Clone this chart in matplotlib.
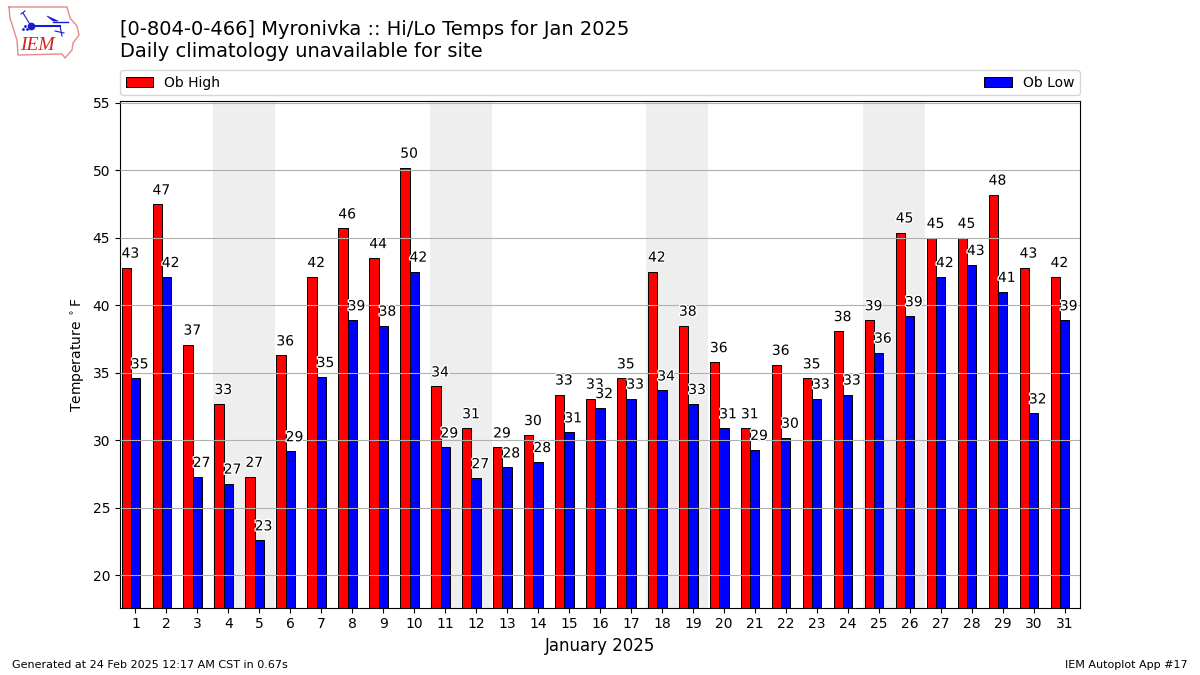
import matplotlib
matplotlib.use("Agg")
import matplotlib.pyplot as plt
import matplotlib.patheffects as pe
import numpy as np

days = list(range(1, 32))
ob_high = [42.8, 47.48, 37.1, 32.7, 27.3, 36.3, 42.1, 45.7, 43.5, 50.2, 34.0,
           30.9, 29.48, 30.4, 33.4, 33.1, 34.6, 42.5, 38.5, 35.8, 30.9, 35.6,
           34.6, 38.1, 38.9, 45.4, 45.0, 45.0, 48.2, 42.8, 42.1]
ob_low = [34.6, 42.1, 27.3, 26.8, 22.6, 29.2, 34.7, 38.9, 38.5, 42.5, 29.48,
          27.2, 28.0, 28.4, 30.6, 32.4, 33.1, 33.7, 32.7, 30.9, 29.3, 30.2,
          33.1, 33.4, 36.5, 39.2, 42.1, 43.0, 41.0, 32.0, 38.9]
weekends = [(3.5, 5.5), (10.5, 12.5), (17.5, 19.5), (24.5, 26.5)]

# logo outline and station model, in figure pixels
iowa_x = [9, 67, 70, 77, 79, 73, 72, 65, 62, 18, 17, 10, 9]
iowa_y = [7, 7, 18, 26, 35, 43, 50, 58, 54, 55, 40, 18, 7]

fig = plt.figure(figsize=(12, 6.75), dpi=100)
ax = fig.add_axes([0.1, 0.1, 0.8, 0.75])

for start, end in weekends:
    ax.axvspan(start, end, color="#eeeeee", zorder=1, lw=0)

x = np.array(days)
ax.bar(x - 0.3, ob_high, width=0.3, color="r", edgecolor="k", lw=0.7, label="Ob High", zorder=2)
ax.bar(x, ob_low, width=0.3, color="b", edgecolor="k", lw=0.7, label="Ob Low", zorder=2)

stroke = [pe.withStroke(linewidth=2, foreground="white")]
for i, day in enumerate(days):
    ax.text(day - 0.45, ob_high[i] + 0.52, f"{ob_high[i]:.0f}", ha="left", va="bottom",
            fontsize=10, path_effects=stroke, zorder=5)
    ax.text(day - 0.15, ob_low[i] + 0.52, f"{ob_low[i]:.0f}", ha="left", va="bottom",
            fontsize=10, path_effects=stroke, zorder=5)

ax.set_axisbelow(False)
ax.grid(axis="y", color="#b0b0b0", lw=0.8)
ax.set_xlim(0.5, 31.5)
ax.set_ylim(17.63, 55.12)
ax.set_xticks(days)
ax.set_yticks(range(20, 60, 5))
ax.set_xlabel("January 2025", fontsize=12)
ax.set_ylabel(r"Temperature $^\circ$F")
ax.legend(loc="lower left", bbox_to_anchor=(0, 1.012, 1, 0.05), ncol=2, mode="expand",
          borderaxespad=0)

fig.text(0.1, 0.909, "[0-804-0-466] Myronivka :: Hi/Lo Temps for Jan 2025\n"
         "Daily climatology unavailable for site", fontsize=14, va="bottom", ha="left")
fig.text(0.01, 0.0105, "Generated at 24 Feb 2025 12:17 AM CST in 0.67s", fontsize=8)
fig.text(0.99, 0.0105, "IEM Autoplot App #17", fontsize=8, ha="right")

# IEM logo
logo = fig.add_axes([0, 0, 1, 1], facecolor="none")
logo.set_xlim(0, 1200)
logo.set_ylim(675, 0)
logo.axis("off")
blue = "#1a1ad0"
logo.plot(iowa_x, iowa_y, color="#e58a8a", lw=1)
logo.plot([31, 60], [26, 26], color=blue, lw=1.5)
logo.plot([31], [26], "o", color=blue, ms=4.5)
logo.plot([31, 23], [26, 13], color=blue, lw=0.8)
logo.plot([21, 25], [14, 11], color=blue, lw=0.8)
logo.fill([47, 58, 53], [16, 21, 21], color=blue, lw=0.5)
logo.plot([53, 68], [22, 22], color=blue, lw=1)
logo.plot([60, 62], [26, 36], color=blue, lw=0.8)
logo.plot([55, 64], [31, 33], color=blue, lw=0.8)
logo.plot([23, 25, 27], [29, 26, 29], ".", color=blue, ms=2)
logo.text(37.5, 45, "IEM", color="#d02020", fontsize=14, style="italic",
          family="Liberation Serif", ha="center", va="center")

fig.savefig("out.png", dpi=100)
